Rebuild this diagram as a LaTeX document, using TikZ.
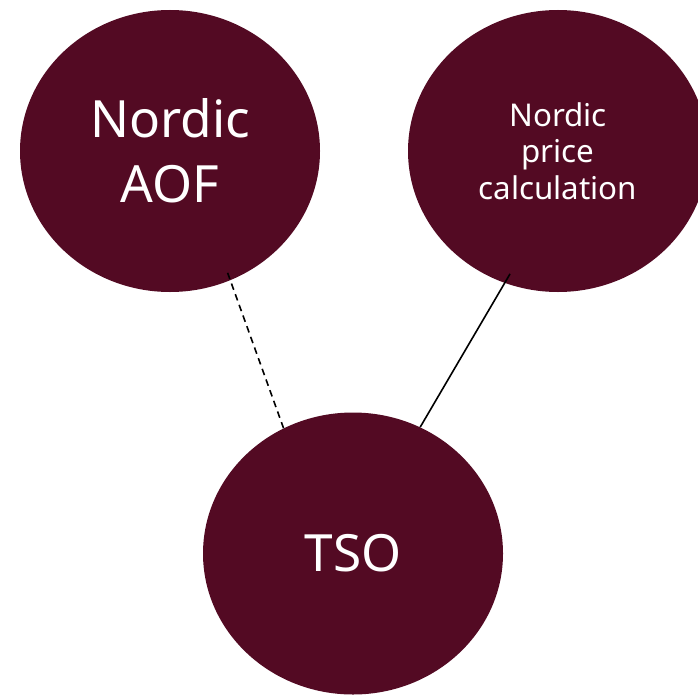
\documentclass[tikz,border=0pt]{standalone}
\usepackage{fontspec}
\setsansfont{Noto Sans}
\usepackage{xcolor}
\usepackage{tikz}
\usetikzlibrary{shapes.geometric}
\definecolor{maroon}{RGB}{83,10,35}
\tikzset{blob/.style={ellipse, fill=maroon, text=white, align=center, inner sep=0pt,
  minimum width=225pt, minimum height=211.5pt, font=\sffamily}}
\tikzset{bigtext/.style={font=\sffamily\fontsize{38.5}{48.5}\selectfont}}
\tikzset{smalltext/.style={font=\sffamily\fontsize{23.5}{27.5}\selectfont}}

\begin{document}
\begin{tikzpicture}[x=0.75pt,y=0.75pt]
{
\useasboundingbox (0,0) rectangle (698,694);
\node[blob,bigtext] (aof) at (170,543) {Nordic\\AOF};
\node[blob,smalltext] (price) at (558,543) {Nordic\\price\\calculation};
\node[blob,bigtext] (tso) at (353,140.5) {TSO};
%\draw (aof) -- (tso);
\draw[line width=1.2pt, dash pattern=on 5pt off 3.5pt, shorten <=-6pt] (aof.-65) -- (tso.119);
\draw[line width=1.2pt, shorten <=-8pt] (price.-112.5) -- (tso.62);
}
\end{tikzpicture}
\end{document}
